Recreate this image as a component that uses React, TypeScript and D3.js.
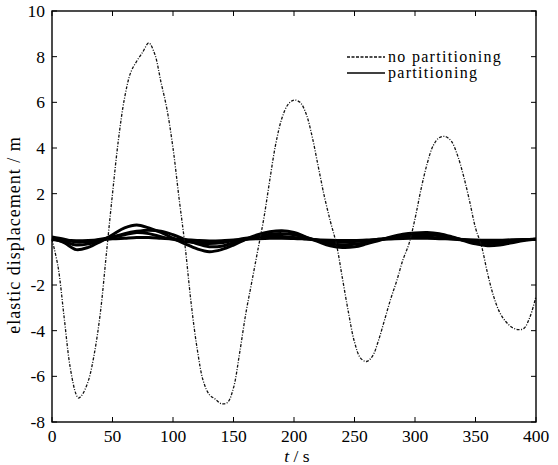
import React from "react";
import * as d3 from "d3";

const xTicks = [0, 50, 100, 150, 200, 250, 300, 350, 400];
const yTicks = [-8, -6, -4, -2, 0, 2, 4, 6, 8, 10];

const tNo = [0, 5, 10, 15, 20, 22, 25, 30, 35, 40, 45, 50, 55, 60, 65, 70, 75, 80, 85, 90, 95, 100, 105, 110, 115, 120, 125, 130, 135, 140, 145, 150, 155, 160, 165, 170, 175, 180, 185, 190, 195, 200, 205, 210, 215, 220, 225, 230, 235, 240, 245, 250, 255, 260, 265, 270, 275, 280, 285, 290, 295, 300, 305, 310, 315, 320, 325, 330, 335, 340, 345, 350, 355, 360, 365, 370, 375, 380, 385, 390, 395, 400];
const noPartitioning = [0, -1.2, -3.4, -5.6, -6.8, -6.95, -6.8, -6.2, -5.0, -3.2, -0.6, 2.0, 4.4, 6.2, 7.3, 7.8, 8.2, 8.6, 8.1, 6.9, 5.7, 4.0, 1.8, -0.3, -2.8, -4.8, -6.2, -6.8, -7.0, -7.2, -7.15, -6.5, -5.0, -3.3, -1.9, -0.5, 0.9, 2.6, 4.2, 5.3, 5.9, 6.1, 6.0, 5.5, 4.5, 3.2, 1.9, 0.8, -0.2, -1.7, -3.2, -4.5, -5.2, -5.35, -5.1, -4.4, -3.5, -2.6, -1.8, -0.9, -0.2, 0.9, 2.2, 3.3, 4.1, 4.45, 4.5, 4.3, 3.7, 2.8, 1.7, 0.5, -0.3, -1.5, -2.5, -3.2, -3.6, -3.85, -3.95, -3.9, -3.4, -2.5];

const tPart = [0, 10, 20, 30, 40, 50, 60, 70, 80, 90, 100, 110, 120, 130, 140, 150, 160, 170, 180, 190, 200, 210, 220, 230, 240, 250, 260, 270, 280, 290, 300, 310, 320, 330, 340, 350, 360, 370, 380, 390, 400];
const partitioningA = [0.05, -0.15, -0.45, -0.35, -0.1, 0.2, 0.5, 0.63, 0.5, 0.3, 0.05, -0.2, -0.42, -0.54, -0.45, -0.25, 0.0, 0.2, 0.33, 0.38, 0.3, 0.1, -0.1, -0.28, -0.36, -0.33, -0.2, -0.05, 0.1, 0.22, 0.28, 0.3, 0.25, 0.12, -0.05, -0.2, -0.28, -0.25, -0.15, -0.05, 0.0];
const partitioningB = [0.0, -0.1, -0.25, -0.2, -0.05, 0.1, 0.25, 0.35, 0.4, 0.35, 0.2, 0.0, -0.2, -0.32, -0.3, -0.15, 0.0, 0.12, 0.22, 0.25, 0.2, 0.08, -0.06, -0.18, -0.24, -0.22, -0.14, -0.03, 0.08, 0.15, 0.2, 0.2, 0.16, 0.08, -0.03, -0.12, -0.18, -0.16, -0.1, -0.03, 0.0];
const partitioningC = [0.1, 0.0, -0.12, -0.1, 0.0, 0.1, 0.2, 0.3, 0.25, 0.12, 0.0, -0.1, -0.15, -0.18, -0.15, -0.05, 0.05, 0.1, 0.12, 0.12, 0.08, 0.02, -0.05, -0.1, -0.12, -0.1, -0.06, 0.0, 0.05, 0.08, 0.1, 0.1, 0.06, 0.02, -0.03, -0.07, -0.09, -0.08, -0.05, -0.02, 0.0];
const partitioningD = [0.0, -0.04, -0.06, -0.05, -0.02, 0.02, 0.05, 0.08, 0.08, 0.05, 0.02, -0.02, -0.05, -0.07, -0.06, -0.03, 0.0, 0.03, 0.05, 0.05, 0.04, 0.01, -0.02, -0.04, -0.05, -0.05, -0.03, 0.0, 0.02, 0.04, 0.05, 0.05, 0.03, 0.01, -0.01, -0.03, -0.04, -0.04, -0.02, -0.01, 0.0];

const legendLabels = ["no partitioning", "partitioning"];

const FONT = "'Liberation Serif', 'Times New Roman', serif";

export default function App() {
  const left = 52, right = 536, top = 11, bottom = 422;
  const x = d3.scaleLinear().domain([0, 400]).range([left, right]);
  const y = d3.scaleLinear().domain([-8, 10]).range([bottom, top]);

  const line = d3
    .line<[number, number]>()
    .x((d) => x(d[0]))
    .y((d) => y(d[1]))
    .curve(d3.curveCatmullRom);

  const noPath = line(tNo.map((t, i) => [t, noPartitioning[i]]) as [number, number][]);
  const partSeries = [partitioningA, partitioningB, partitioningC, partitioningD];
  const tl = 5;

  return (
    <svg width={558} height={465} style={{ position: "absolute", left: 0, top: 0, background: "#fff" }}>
      <rect x={0} y={0} width={558} height={465} fill="#fff" />
      {partSeries.map((s, k) => (
        <path
          key={k}
          d={line(tPart.map((t, i) => [t, s[i]]) as [number, number][]) || ""}
          fill="none"
          stroke="#000"
          strokeWidth={3}
        />
      ))}
      <path d={noPath || ""} fill="none" stroke="#111" strokeWidth={1.3} strokeDasharray="3,1.5,1,1.5" />

      <rect x={left} y={top} width={right - left} height={bottom - top} fill="none" stroke="#000" strokeWidth={1.4} />
      {xTicks.map((t) => (
        <g key={"x" + t}>
          <line x1={x(t)} x2={x(t)} y1={bottom} y2={bottom - tl} stroke="#000" strokeWidth={1} />
          <line x1={x(t)} x2={x(t)} y1={top} y2={top + tl} stroke="#000" strokeWidth={1} />
          <text x={x(t)} y={442} textAnchor="middle" fontFamily={FONT} fontSize={17.5} fill="#000">
            {t}
          </text>
        </g>
      ))}
      {yTicks.map((v) => (
        <g key={"y" + v}>
          <line x1={left} x2={left + tl} y1={y(v)} y2={y(v)} stroke="#000" strokeWidth={1} />
          <line x1={right} x2={right - tl} y1={y(v)} y2={y(v)} stroke="#000" strokeWidth={1} />
          <text x={45} y={y(v)} dy="0.35em" textAnchor="end" fontFamily={FONT} fontSize={17.5} fill="#000">
            {v}
          </text>
        </g>
      ))}
      <text x={297} y={462} textAnchor="middle" fontFamily={FONT} fontSize={17.5} fill="#000">
        <tspan fontStyle="italic">t</tspan> / s
      </text>
      <text
        transform={`translate(20,${235}) rotate(-90)`}
        textAnchor="middle"
        fontFamily={FONT}
        fontSize={18}
        letterSpacing={1}
        fill="#000"
      >
        elastic  displacement / m
      </text>

      <line x1={347} x2={385} y1={57} y2={57} stroke="#111" strokeWidth={1.3} strokeDasharray="3,1.5" />
      <text x={388} y={62} fontFamily={FONT} fontSize={16} letterSpacing={1.3} fill="#000">
        {legendLabels[0]}
      </text>
      <line x1={347} x2={385} y1={73} y2={73} stroke="#000" strokeWidth={1.4} />
      <text x={388} y={78} fontFamily={FONT} fontSize={16} letterSpacing={1.3} fill="#000">
        {legendLabels[1]}
      </text>
    </svg>
  );
}
